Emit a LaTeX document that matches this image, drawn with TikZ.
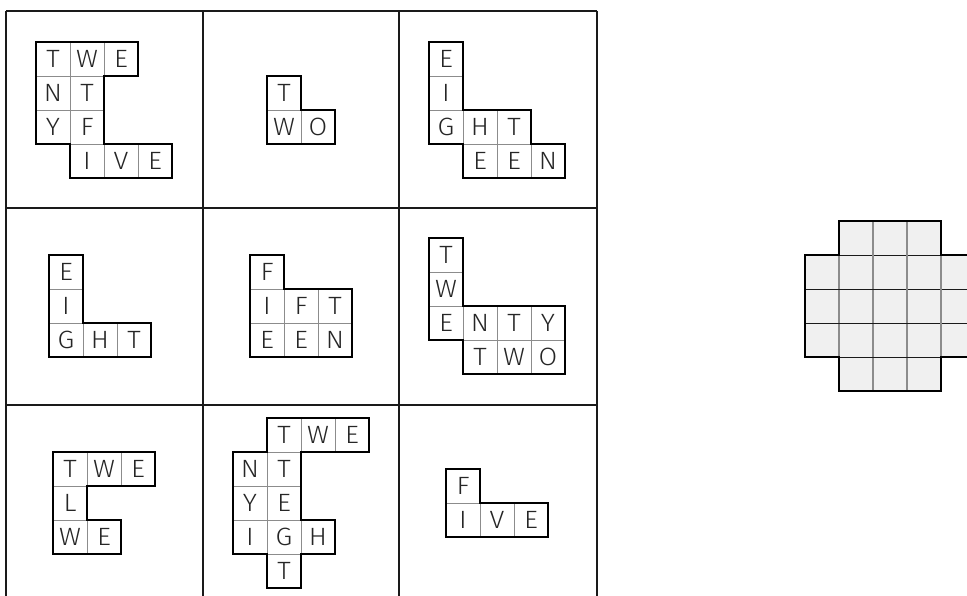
\documentclass[tikz,border=0pt]{standalone}
\usepackage{fontspec}
\setmainfont{Fira Sans Light}[FakeStretch=1.08]
\definecolor{gridc}{HTML}{1A1A1A}
\definecolor{thinc}{HTML}{8C8C8C}
\definecolor{fillc}{HTML}{F0F0F0}
\tikzset{
  gridline/.style={draw=gridc, line width=2pt},
  cellline/.style={draw=thinc, line width=0.8pt},
  outline/.style={draw=black, line width=2.6pt, line join=miter},
  letter/.style={inner sep=0pt, text height=17pt, text depth=0pt, text=black!85, font=\fontsize{25}{25}\selectfont},
  puzz/.style={x=34pt, y=-34pt}
}
\newcommand\wordgrid[3]{%
  \begin{scope}[shift={#1}, puzz]
    \foreach \c/\r/\l in {#2} {
      \draw[cellline, fill=white] (\c,\r) rectangle ++(1,1);
      \node[letter] at (\c+0.5,\r+0.5) {\l};
    }
    \draw[outline] #3;
  \end{scope}}
\begin{document}
\begin{tikzpicture}[x=1pt, y=-1pt]
\useasboundingbox (0,0) rectangle (967,596);
\clip (0,0) rectangle (967,596);
% main 3x3 grid
\foreach \xx in {6,203,399,597} \draw[gridline] (\xx,11) -- (\xx,602);
\foreach \yy in {11,208,405,602} \draw[gridline] (6,\yy) -- (597,\yy);
% puzzle 1
\wordgrid{(36,42)}{0/0/T,1/0/W,2/0/E,0/1/N,1/1/T,0/2/Y,1/2/F,1/3/I,2/3/V,3/3/E}
  {(0,0)--(3,0)--(3,1)--(2,1)--(2,3)--(4,3)--(4,4)--(1,4)--(1,3)--(0,3)--cycle}
% puzzle 2
\wordgrid{(267,76)}{0/0/T,0/1/W,1/1/O}
  {(0,0)--(1,0)--(1,1)--(2,1)--(2,2)--(0,2)--cycle}
% puzzle 3
\wordgrid{(429,42)}{0/0/E,0/1/I,0/2/G,1/2/H,2/2/T,1/3/E,2/3/E,3/3/N}
  {(0,0)--(1,0)--(1,2)--(3,2)--(3,3)--(4,3)--(4,4)--(1,4)--(1,3)--(0,3)--cycle}
% puzzle 4
\wordgrid{(49,255)}{0/0/E,0/1/I,0/2/G,1/2/H,2/2/T}
  {(0,0)--(1,0)--(1,2)--(3,2)--(3,3)--(0,3)--cycle}
% puzzle 5
\wordgrid{(250,255)}{0/0/F,0/1/I,1/1/F,2/1/T,0/2/E,1/2/E,2/2/N}
  {(0,0)--(1,0)--(1,1)--(3,1)--(3,3)--(0,3)--cycle}
% puzzle 6
\wordgrid{(429,238)}{0/0/T,0/1/W,0/2/E,1/2/N,2/2/T,3/2/Y,1/3/T,2/3/W,3/3/O}
  {(0,0)--(1,0)--(1,2)--(4,2)--(4,4)--(1,4)--(1,3)--(0,3)--cycle}
% puzzle 7
\wordgrid{(53,452)}{0/0/T,1/0/W,2/0/E,0/1/L,0/2/W,1/2/E}
  {(0,0)--(3,0)--(3,1)--(1,1)--(1,2)--(2,2)--(2,3)--(0,3)--cycle}
% puzzle 8
\wordgrid{(233,418)}{1/0/T,2/0/W,3/0/E,0/1/N,1/1/T,0/2/Y,1/2/E,0/3/I,1/3/G,2/3/H,1/4/T}
  {(1,0)--(4,0)--(4,1)--(2,1)--(2,3)--(3,3)--(3,4)--(2,4)--(2,5)--(1,5)--(1,4)--(0,4)--(0,1)--(1,1)--cycle}
% puzzle 9
\wordgrid{(446,469)}{0/0/F,0/1/I,1/1/V,2/1/E}
  {(0,0)--(1,0)--(1,1)--(3,1)--(3,2)--(0,2)--cycle}
% right shape
\begin{scope}[shift={(805,221)}, puzz]
  \fill[fillc] (1,0)--(4,0)--(4,1)--(5,1)--(5,4)--(4,4)--(4,5)--(1,5)--(1,4)--(0,4)--(0,1)--(1,1)--cycle;
  \foreach \i in {1,2,3,4} {
    \draw[draw=thinc, line width=1.2pt] (\i,0) -- (\i,5);
    \draw[draw=gridc, line width=0.8pt] (0,\i) -- (5,\i);
  }
  \draw[outline] (1,0)--(4,0)--(4,1)--(5,1)--(5,4)--(4,4)--(4,5)--(1,5)--(1,4)--(0,4)--(0,1)--(1,1)--cycle;
\end{scope}
\end{tikzpicture}
\end{document}
